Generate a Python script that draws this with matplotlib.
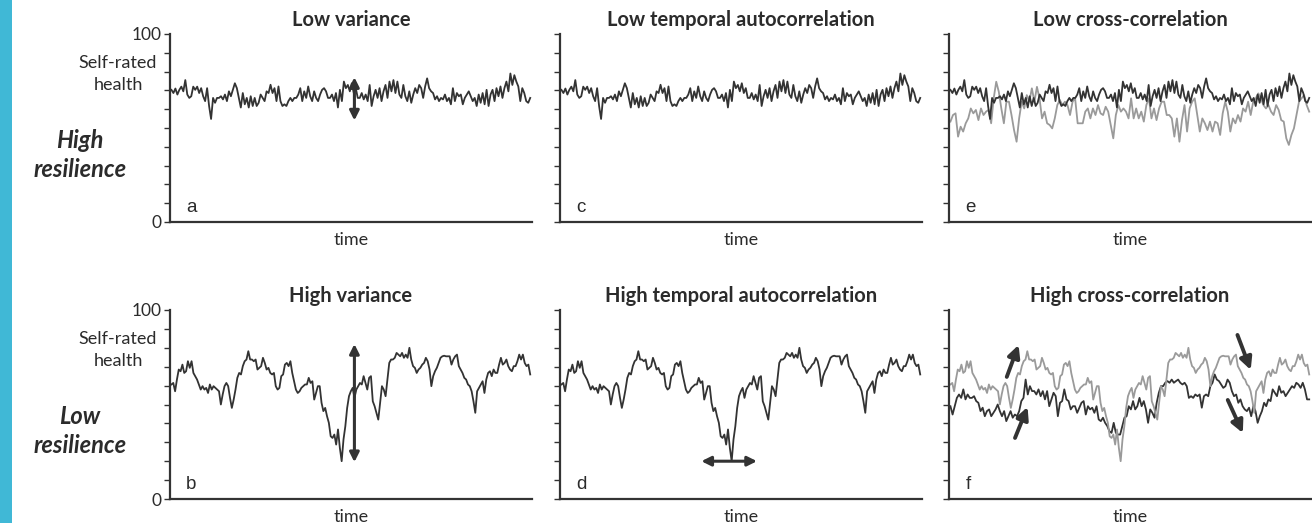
import numpy as np
import matplotlib
matplotlib.use("Agg")
import matplotlib.pyplot as plt
from matplotlib.patches import Rectangle

# ---------------- data ----------------
# low-variance / low-autocorrelation series (panels a, c, and black in e)
low_var = [70.3, 68.6, 71, 67.8, 70.3, 72, 69.5, 75.5, 67.8, 66, 66.9, 72, 70.3, 72, 68.6, 71.2, 66.9, 64.3,
           71.2, 61.7, 54.8, 66, 63.4, 66, 66, 66.9, 65.2, 67.8, 64.3, 69.5, 66.9, 70.3, 73.8, 71.2, 66, 60.9,
           68.6, 62.6, 66, 60.9, 66.9, 61.7, 66, 61.7, 63.4, 67.8, 66, 64.3, 69.5, 68.6, 73, 68.6, 71.2, 64.3,
           72.1, 64.3, 61.7, 62.6, 61.7, 64.3, 66, 64.3, 66, 66, 67.8, 71.2, 64.3, 69.5, 66, 72.1, 66.9, 64.3,
           69.5, 66, 64.3, 67.8, 70.3, 71.2, 69.5, 66, 66, 67.8, 64.3, 68.6, 60.9, 70.3, 64.3, 74.7, 71.2, 72.9,
           69.5, 73.8, 68.6, 71.2, 66,
           66, 68.6, 65.2, 67.8, 64.3, 72.9, 61.7, 66.9, 70.3, 66, 71.2, 64.3, 69.5, 72.9, 66, 74.7, 69.5, 75.5,
           68.6, 74.7, 67.8, 66, 72.9, 66.9, 64.3, 69.5, 63.4, 67.8, 71.2, 68.6, 72.9, 71.2, 66, 72.1, 76.4,
           71.2, 69.5, 68.6, 65.2, 66.9, 64.3, 66, 65.2, 67.8, 64.3, 66, 62.6, 71.2, 64.3, 68.6, 66.9, 67.8,
           62.6, 66, 67.8, 69.5, 66.9, 64.3, 66, 61.7, 67.8, 63.4, 68.6, 62.6, 70.3, 61.7, 67.8, 70.3, 64.3,
           71.2, 66.9, 72.1, 66, 71.2, 74.7, 69.5, 79, 72.9, 78.1, 74.7, 72.1, 64.3, 71.2, 68.6, 64.3, 63.4, 66]

# high-variance / high-autocorrelation series (panels b, d, and grey in f)
high_var = [60.6, 61.4, 57.0, 63.2, 68.5, 67.6, 71.1, 66.7, 67.6, 72.9, 69.4, 72.9, 66.7, 65.0, 63.2, 60.6,
            57.9, 59.7, 57.9, 58.8, 56.1, 60.6, 57.9, 59.7, 58.8, 57.9, 57.0, 50.0, 55.3, 59.7, 61.4, 59.7,
            53.5, 48.2, 52.6, 57.9, 64.1, 66.7, 65.9, 70.3, 72.9, 73.8, 78.2, 73.8, 73.8, 72.9, 73.8, 68.5,
            69.4, 70.3, 74.7, 72.0, 68.5, 69.4, 66.7, 65.9, 66.7, 59.7, 57.9, 58.8, 65.0, 65.9, 71.1, 72.0,
            70.3, 72.9, 66.7, 62.3, 57.9, 56.1, 57.0, 58.8, 59.7, 60.6, 60.6, 64.1, 61.4, 62.3, 52.6, 56.1,
            59.7, 59.7, 50.9, 46.5, 48.2, 43.8, 40.3, 33.2, 32.3, 34.1, 28.8, 36.8, 27.1, 20.0, 31.5, 38.5,
            48.2, 54.4, 57.0, 58.8,
            53.5, 57.9, 59.7, 61.4, 60.6, 65.0, 61.4, 57.9, 64.1, 65.0, 51.7, 49.1, 45.6, 42.0, 50.9, 59.7,
            57.9, 54.4, 63.2, 72.0, 73.8, 73.8, 74.7, 77.3, 76.4, 75.5, 77.3, 74.7, 76.4, 74.7, 80.0, 73.8,
            70.3, 69.4, 66.7, 68.5, 69.4, 71.1, 72.0, 74.7, 72.9, 68.5, 59.7, 65.0, 67.6, 69.4, 72.0, 74.7,
            75.5, 75.8, 75.5, 75.5, 75.5, 71.1, 73.8, 75.5, 76.4, 70.3, 68.5, 66.7, 64.1, 63.2, 60.6, 59.7,
            57.0, 51.7, 45.6, 57.0, 58.8, 60.6, 62.3, 56.1, 63.2, 66.7, 67.6, 65.0, 68.5, 66.7, 66.7, 71.1,
            74.7, 71.1, 72.0, 73.8, 70.3, 68.5, 67.6, 70.3, 70.3, 72.9, 76.4, 73.8, 76.4, 72.0, 70.3, 71.1, 65.9]

# second (grey) variable in panel e: low cross-correlation
low_cc_grey = [53.4, 56.9, 57.8, 45.4, 50.7, 48.1, 52.5, 55.1, 60.4, 57.8, 59.6, 54.2, 60.4, 56.9, 58.7, 59.6,
               52.5, 65.8, 74.6, 69.3, 60.4, 52.5, 64.0, 64.0, 56.9, 48.9, 42.7, 55.1, 64.0, 60.4, 67.5, 64.0,
               71.1, 64.0, 71.9, 65.8, 55.1, 58.7, 52.5, 51.6, 49.8, 55.1, 62.2, 64.9, 62.2, 64.0, 62.2, 56.9,
               64.0, 65.8, 52.5, 52.5, 52.5, 58.7, 60.4, 55.1, 60.4, 56.9, 62.2, 57.8, 56.9, 61.3, 58.7, 51.6,
               44.5, 56.9, 62.2, 58.7, 60.4, 58.7, 55.1, 65.8, 55.1, 60.4, 55.1, 58.7, 53.4, 62.2, 65.8, 55.1,
               60.4, 54.2, 60.4, 64.0, 64.0, 56.9, 56.9, 55.1, 45.4, 55.1, 42.7, 54.2, 62.2, 48.1, 60.4, 64.0,
               65.8, 56.9, 48.1, 55.1, 52.5, 48.9, 53.4, 48.1, 53.4, 52.5, 46.3, 57.8, 64.0, 58.7, 48.1, 55.1,
               52.5, 56.9, 53.4, 60.4, 58.7, 64.0, 56.9, 64.0, 65.8, 68.4, 65.8, 62.2, 60.4, 62.2, 58.7, 56.9,
               62.2, 59.6, 54.2, 53.4, 44.5, 41.0, 46.3, 49.8, 56.9, 64.0, 65.8, 67.5, 62.2, 58.7]

# second (black) variable in panel f: high cross-correlation
high_cc_black = [49.1, 44.7, 49.1, 53.5, 55.3, 53.5, 58.0, 52.7, 55.3, 53.5, 53.5, 54.4, 51.8, 50.9, 46.5,
                 48.3, 43.8, 46.5, 47.4, 43.8, 45.6, 47.4, 50.0, 46.5, 43.8, 46.5, 41.2, 43.8, 46.5, 43.0,
                 44.7, 43.8, 46.5, 51.8, 53.5, 63.2, 55.3, 59.7, 57.1, 57.1, 55.3, 58.0, 54.4, 57.1, 52.7,
                 57.1, 49.1, 52.7, 56.2, 54.4, 43.8, 50.9, 51.8, 58.0, 52.7, 51.8, 47.4, 49.1, 49.1, 45.6,
                 48.3, 50.9, 51.8, 44.7, 49.1, 47.4, 48.3, 45.6, 49.1, 42.1, 41.2, 43.0, 40.3, 38.6, 35.9,
                 35.0, 40.3, 35.0, 34.1, 34.1, 38.6, 43.0, 43.8, 49.1, 47.4, 51.8, 47.4, 49.1, 53.5, 49.1,
                 51.8, 47.4, 40.3, 47.4, 45.6, 43.0, 50.9, 56.2, 59.7, 59.7, 61.5, 62.4, 61.5, 63.2, 61.5,
                 62.4, 63.2, 61.5, 60.6, 61.5, 59.7, 53.5, 54.4, 53.5, 55.3, 54.4, 55.3, 48.3, 54.4, 55.3,
                 54.4, 59.7, 61.5, 65.9, 63.2, 62.4, 60.6, 58.8, 59.7, 63.2, 61.5, 57.1, 54.4, 55.3, 50.9,
                 52.7, 49.1, 47.4, 46.5, 48.3, 43.8, 49.1, 46.5, 40.3, 43.8, 46.5, 50.9, 49.1, 52.7, 51.8,
                 58.0, 56.2, 54.4, 59.7, 56.2, 57.1, 54.4, 56.2, 58.0, 59.7, 58.8, 61.5, 60.6, 58.8, 61.5,
                 58.0, 52.7, 52.7]

titles = [["Low variance", "Low temporal autocorrelation", "Low cross-correlation"],
          ["High variance", "High temporal autocorrelation", "High cross-correlation"]]
letters = [["a", "c", "e"], ["b", "d", "f"]]
row_labels = ["High\nresilience", "Low\nresilience"]
y_label = "Self-rated\nhealth"
x_label = "time"

# ---------------- figure ----------------
W, H = 1312, 523
fig = plt.figure(figsize=(W / 100, H / 100), dpi=100)
fig.patches.append(Rectangle((0, 0), 12 / W, 1, transform=fig.transFigure,
                             facecolor="#40b8d6", edgecolor="none"))

DARK = "#333333"
GREY = "#9a9a9a"
TXT = "#2b2b2b"
lefts = [170, 560, 949]
axw = 362
rows = [(34, 222), (310, 499)]  # top, bottom in pixels


def fx(px):
    return px / W


def fy(py):
    return 1 - py / H


def tx(series):
    return np.linspace(0, 1, len(series))


axes = [[None] * 3 for _ in range(2)]
for r, (top, bot) in enumerate(rows):
    for c, lx in enumerate(lefts):
        ax = fig.add_axes([fx(lx), fy(bot), axw / W, (bot - top) / H])
        axes[r][c] = ax
        ax.set_xlim(-0.004, 1.005)
        ax.set_ylim(0, 100)
        for s in ("top", "right"):
            ax.spines[s].set_visible(False)
        for s in ("left", "bottom"):
            ax.spines[s].set_color(DARK)
            ax.spines[s].set_linewidth(1.6)
        ax.set_xticks([])
        ax.set_yticks([0, 100])
        ax.set_yticks(np.arange(10, 100, 10), minor=True)
        ax.tick_params(axis="y", which="both", direction="out", length=4,
                       width=1.0, color=DARK, labelsize=12.5, labelcolor=TXT, pad=2)
        if c == 0:
            ax.set_yticklabels(["0", "100"], fontfamily="Lato")
        else:
            ax.set_yticklabels([])
        ax.patch.set_alpha(0)
        # title and time label
        fig.text(fx(lx + axw / 2), fy(top - 14), titles[r][c], ha="center", va="center",
                 fontsize=14.5, fontweight="bold", fontfamily="Lato", color=TXT)
        fig.text(fx(lx + axw / 2), fy(bot + 18), x_label, ha="center", va="center",
                 fontsize=13, fontfamily="Lato", color=TXT)
        ax.text(0.045, 0.075, letters[r][c], transform=ax.transAxes, ha="left", va="center",
                fontsize=13.5, fontfamily="Liberation Sans", color=TXT)

    fig.text(fx(118), fy(top + 40), y_label, ha="center", va="center", fontsize=13,
             fontfamily="Lato", color=TXT, linespacing=1.45)
    fig.text(fx(80), fy(top + 121), row_labels[r], ha="center", va="center", fontsize=17,
             fontfamily="Lato", fontweight="bold", fontstyle="italic", color=TXT,
             linespacing=1.35)

lw = 1.3
# top row
axes[0][0].plot(tx(low_var), low_var, color=DARK, lw=lw)
axes[0][1].plot(tx(low_var), low_var, color=DARK, lw=lw)
axes[0][2].plot(tx(low_cc_grey), low_cc_grey, color=GREY, lw=lw)
axes[0][2].plot(tx(low_var), low_var, color=DARK, lw=lw)
# bottom row
axes[1][0].plot(tx(high_var), high_var, color=DARK, lw=lw)
axes[1][1].plot(tx(high_var), high_var, color=DARK, lw=lw)
axes[1][2].plot(tx(high_cc_black), high_cc_black, color=DARK, lw=lw)
axes[1][2].plot(tx(high_var), high_var, color=GREY, lw=lw)

# annotation arrows
dbl = dict(arrowstyle="<|-|>", color=DARK, lw=2.2, mutation_scale=14, shrinkA=0, shrinkB=0)
axes[0][0].annotate("", xy=(0.51, 54), xytext=(0.51, 77), arrowprops=dbl)
axes[1][0].annotate("", xy=(0.51, 19.5), xytext=(0.51, 82), arrowprops=dbl)
axes[1][1].annotate("", xy=(0.39, 20), xytext=(0.545, 20), arrowprops=dbl)

sgl = dict(arrowstyle="-|>", color=DARK, lw=2.8, mutation_scale=18, shrinkA=0, shrinkB=0)
axf = axes[1][2]
axf.annotate("", xy=(0.19, 81.5), xytext=(0.157, 64.6), arrowprops=sgl)
axf.annotate("", xy=(0.215, 48.7), xytext=(0.18, 32.3), arrowprops=sgl)
axf.annotate("", xy=(0.837, 68.3), xytext=(0.80, 86.8), arrowprops=sgl)
axf.annotate("", xy=(0.815, 34.9), xytext=(0.773, 52.4), arrowprops=sgl)

fig.savefig("out.png", dpi=100)
